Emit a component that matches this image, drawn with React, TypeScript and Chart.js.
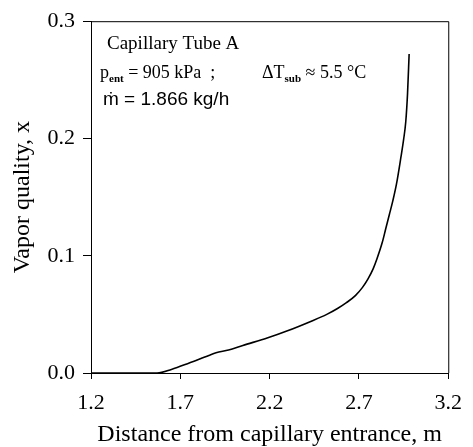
import React, { useEffect, useRef } from "react";
import { Chart, registerables } from "chart.js";

Chart.register(...registerables);

const distance = [1.2, 1.4, 1.57, 1.65, 1.75, 1.86, 1.9, 1.97, 2.05, 2.19, 2.3, 2.43, 2.52, 2.58, 2.63, 2.68, 2.72, 2.75, 2.78, 2.8, 2.83, 2.85, 2.87, 2.89, 2.91, 2.935, 2.95, 2.962, 2.972, 2.981];
const quality = [0, 0, 0, 0.003, 0.0085, 0.015, 0.0172, 0.0196, 0.0235, 0.03, 0.036, 0.044, 0.05, 0.055, 0.06, 0.066, 0.073, 0.08, 0.089, 0.097, 0.111, 0.123, 0.135, 0.147, 0.161, 0.184, 0.199, 0.214, 0.238, 0.272];
const xTicks = [1.2, 1.7, 2.2, 2.7, 3.2];
const yTicks = [0, 0.1, 0.2, 0.3];

const SERIF = "'Liberation Serif', 'Times New Roman', serif";
const SANS = "'Liberation Sans', Arial, sans-serif";

const framePlugin = {
  id: "frame",
  afterDraw(chart: any) {
    const { ctx, chartArea: a } = chart;
    ctx.save();
    ctx.strokeStyle = "#000";
    ctx.lineWidth = 1;
    ctx.beginPath();
    ctx.moveTo(a.left, a.top + 0.5);
    ctx.lineTo(a.right + 0.5, a.top + 0.5);
    ctx.lineTo(a.right + 0.5, a.bottom);
    ctx.stroke();

    // annotations
    ctx.fillStyle = "#000";
    ctx.textBaseline = "alphabetic";
    ctx.font = `19px ${SERIF}`;
    ctx.fillText("Capillary Tube A", a.left + 16, a.top + 28);

    let x = a.left + 9;
    const y2 = a.top + 57;
    const seg = (t: string, size: number, dy: number, font = SERIF, bold = false) => {
      ctx.font = `${bold ? "bold " : ""}${size}px ${font}`;
      ctx.fillText(t, x, y2 + dy);
      x += ctx.measureText(t).width;
    };
    seg("p", 18, 0);
    seg("ent", 11, 4, SERIF, true);
    seg(" = 905 kPa  ;", 18, 0);
    x = a.left + 171;
    seg("\u0394T", 18, 0);
    seg("sub", 11, 4, SERIF, true);
    seg(" \u2248 5.5 \u00B0C", 18, 0);

    ctx.font = `19px ${SANS}`;
    ctx.fillText("m\u0307 = 1.866 kg/h", a.left + 12, a.top + 84);
    ctx.restore();
  },
};

export default function App() {
  const ref = useRef<HTMLCanvasElement>(null);
  useEffect(() => {
    if (!ref.current) return;
    const chart = new Chart(ref.current, {
      type: "line",
      data: {
        datasets: [
          {
            data: distance.map((d, i) => ({ x: d, y: quality[i] })),
            borderColor: "#000",
            borderWidth: 1.6,
            pointRadius: 0,
            fill: false,
            cubicInterpolationMode: "monotone",
          },
        ],
      },
      options: {
        animation: false,
        responsive: false,
        maintainAspectRatio: false,
        layout: { padding: { top: 20, right: 20, left: 0, bottom: 0 } },
        plugins: { legend: { display: false }, tooltip: { enabled: false } },
        scales: {
          x: {
            type: "linear",
            min: 1.2,
            max: 3.2,
            afterFit: (s: any) => {
              s.height = 74;
            },
            afterBuildTicks: (s: any) => {
              s.ticks = xTicks.map((v) => ({ value: v }));
            },
            grid: { drawOnChartArea: false, drawTicks: true, tickLength: 6, color: "#000" },
            border: { display: true, color: "#000", width: 1 },
            ticks: {
              color: "#000",
              font: { family: SERIF, size: 22 },
              padding: 11,
              maxRotation: 0,
              callback: (v: any) => Number(v).toFixed(1),
            },
            title: {
              display: true,
              text: "Distance from capillary entrance, m",
              color: "#000",
              font: { family: SERIF, size: 24, lineHeight: 1.0 },
              padding: { top: 0, bottom: 0 },
            },
          },
          y: {
            type: "linear",
            min: 0,
            max: 0.3,
            afterFit: (s: any) => {
              s.width = 91;
            },
            afterBuildTicks: (s: any) => {
              s.ticks = yTicks.map((v) => ({ value: v }));
            },
            grid: { drawOnChartArea: false, drawTicks: true, tickLength: 8, color: "#000" },
            border: { display: true, color: "#000", width: 1 },
            ticks: {
              color: "#000",
              font: { family: SERIF, size: 22 },
              padding: 8,
              callback: (v: any) => Number(v).toFixed(1),
            },
            title: {
              display: true,
              text: "Vapor quality, x",
              color: "#000",
              font: { family: SERIF, size: 24, lineHeight: 1.0 },
              padding: { top: 11, bottom: 0 },
            },
          },
        },
      },
      plugins: [framePlugin],
    } as any);
    return () => chart.destroy();
  }, []);
  return (
    <div style={{ position: "absolute", left: 0, top: 0, width: 473, height: 447, background: "#fff" }}>
      <canvas ref={ref} width={473} height={447} style={{ width: 473, height: 447, display: "block" }} />
    </div>
  );
}
